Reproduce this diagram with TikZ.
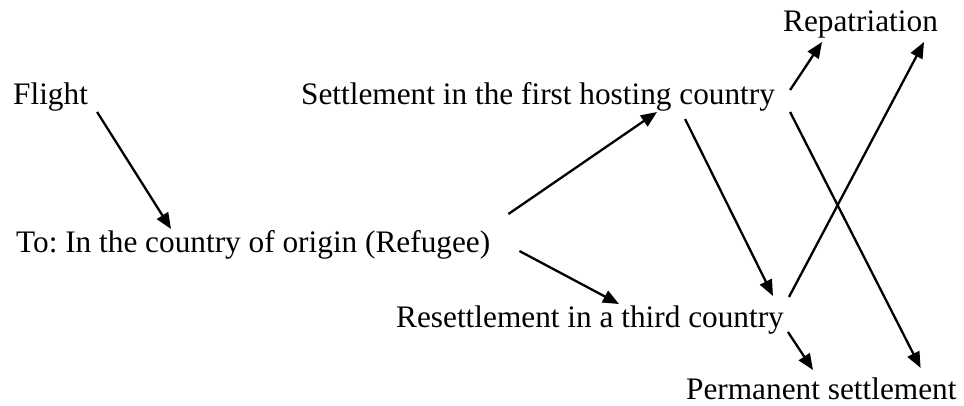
\documentclass[tikz,border=0pt]{standalone}
\usepackage{fontspec}
\setmainfont{Liberation Serif}
\usetikzlibrary{arrows.meta}
\frenchspacing

\begin{document}
\begin{tikzpicture}[x=1pt,y=-1pt,>={Triangle[length=16pt,width=13pt]},line width=2.3pt,
    every node/.style={inner sep=0pt,anchor=base west,font=\fontsize{31.3}{36}\selectfont}]
       \useasboundingbox (0,0) rectangle (964,406);
       \node (flight) at (12,105)  {Flight};
       \node (settle) at (300,105) {Settlement in the first hosting country};
       \node (repat)  at (782,32)  {Repatriation};
       \node (to)     at (15,253)  {To: In the country of origin (Refugee)};
       \node (reset)  at (395,327) {Resettlement in a third country};
       \node (perm)   at (685,399) {Permanent settlement};
        \path[->]
        ([shift={(8,7)}]flight.base east) edge ([shift={(156,-24)}]to.base west)
        ([shift={(17,-39)}]to.base east) edge ([shift={(357,7)}]settle.base west)
        ([shift={(28,-2)}]to.base east) edge ([shift={(224,-23)}]reset.base west)
        ([shift={(-91,14)}]settle.base east) edge ([shift={(-12,-31)}]reset.base east)
        ([shift={(14,-15)}]settle.base east) edge ([shift={(40,10)}]repat.base west)
        ([shift={(14,7)}]settle.base east) edge ([shift={(-37,-31)}]perm.base east)
        ([shift={(4,-30)}]reset.base east) edge ([shift={(-15,10)}]repat.base east)
        ([shift={(3,5)}]reset.base east) edge ([shift={(128,-29)}]perm.base west);
    \end{tikzpicture}
\end{document}
